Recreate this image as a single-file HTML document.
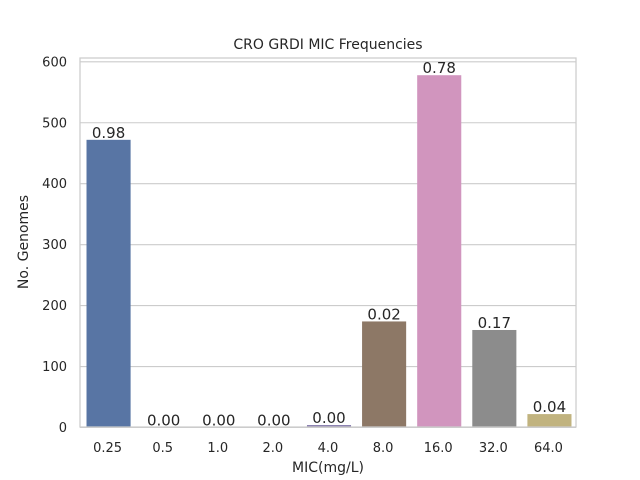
<!DOCTYPE html>
<html><head><meta charset="utf-8"><style>
body{margin:0;background:#fff;}
svg{display:block;font-family:"DejaVu Sans","Liberation Sans",sans-serif;}
</style></head><body>
<svg id="chart" width="640" height="480" viewBox="0 0 640 480" xmlns="http://www.w3.org/2000/svg">
<text x="328" y="49" text-anchor="middle" font-size="14" fill="#262626">CRO GRDI MIC Frequencies</text>
<g id="grid"></g>
<g id="bars"></g>
<rect x="80" y="58" width="496" height="369" fill="none" stroke="#cccccc" stroke-width="1.25"/>
<g id="xticks"></g>
<g id="yticks"></g>
<text x="328" y="472" text-anchor="middle" font-size="14" fill="#262626">MIC(mg/L)</text>
<text transform="translate(28,242) rotate(-90)" text-anchor="middle" font-size="14" fill="#262626">No. Genomes</text>
</svg>
<script>
const categories=["0.25","0.5","1.0","2.0","4.0","8.0","16.0","32.0","64.0"];
const counts=[472,0,0,0,4,174,578,160,22];
const labels=["0.98","0.00","0.00","0.00","0.00","0.02","0.78","0.17","0.04"];
const colors=["#5875a4","#cc8963","#5f9e6e","#b55d60","#857aab","#8d7866","#d195be","#8c8c8c","#c1b37f"];
const yTicks=[0,100,200,300,400,500,600];
const NS="http://www.w3.org/2000/svg";
const L=80,R=576,B=427,T=58;
const y0=427.5, pxPer=0.6095;
function ys(v){return y0-v*pxPer;}
const slot=(R-L)/categories.length;
function xs(i){return L+slot*(i+0.5);}
function mk(tag,attrs,parent){const e=document.createElementNS(NS,tag);for(const k in attrs)e.setAttribute(k,attrs[k]);parent.appendChild(e);return e;}
const grid=document.getElementById('grid'),bars=document.getElementById('bars'),xt=document.getElementById('xticks'),yt=document.getElementById('yticks');
yTicks.forEach(v=>{
  const l=mk('line',{x1:L,x2:R,y1:ys(v),y2:ys(v),stroke:'#cccccc','stroke-width':1.1},grid);
  
  
  const t=mk('text',{x:L-13,y:ys(v)+4.5,'text-anchor':'end','font-size':13,fill:'#262626'},yt);
  t.textContent=v;
  
  
});
categories.forEach((c,i)=>{
  const w=slot*0.8,x=xs(i)-w/2+1,y=ys(counts[i]);
  const r=mk('rect',{x:x,y:y,width:w,height:Math.max(0,y0-y),fill:colors[i]},bars);
  
  
  const t=mk('text',{x:xs(i)+1,y:y-2,'text-anchor':'middle','font-size':15,fill:'#262626'},bars);
  t.textContent=labels[i];
  
  
  const xl=mk('text',{x:xs(i),y:452,'text-anchor':'middle','font-size':13,fill:'#262626'},xt);
  xl.textContent=c;
  
  
});
</script>
</body></html>
